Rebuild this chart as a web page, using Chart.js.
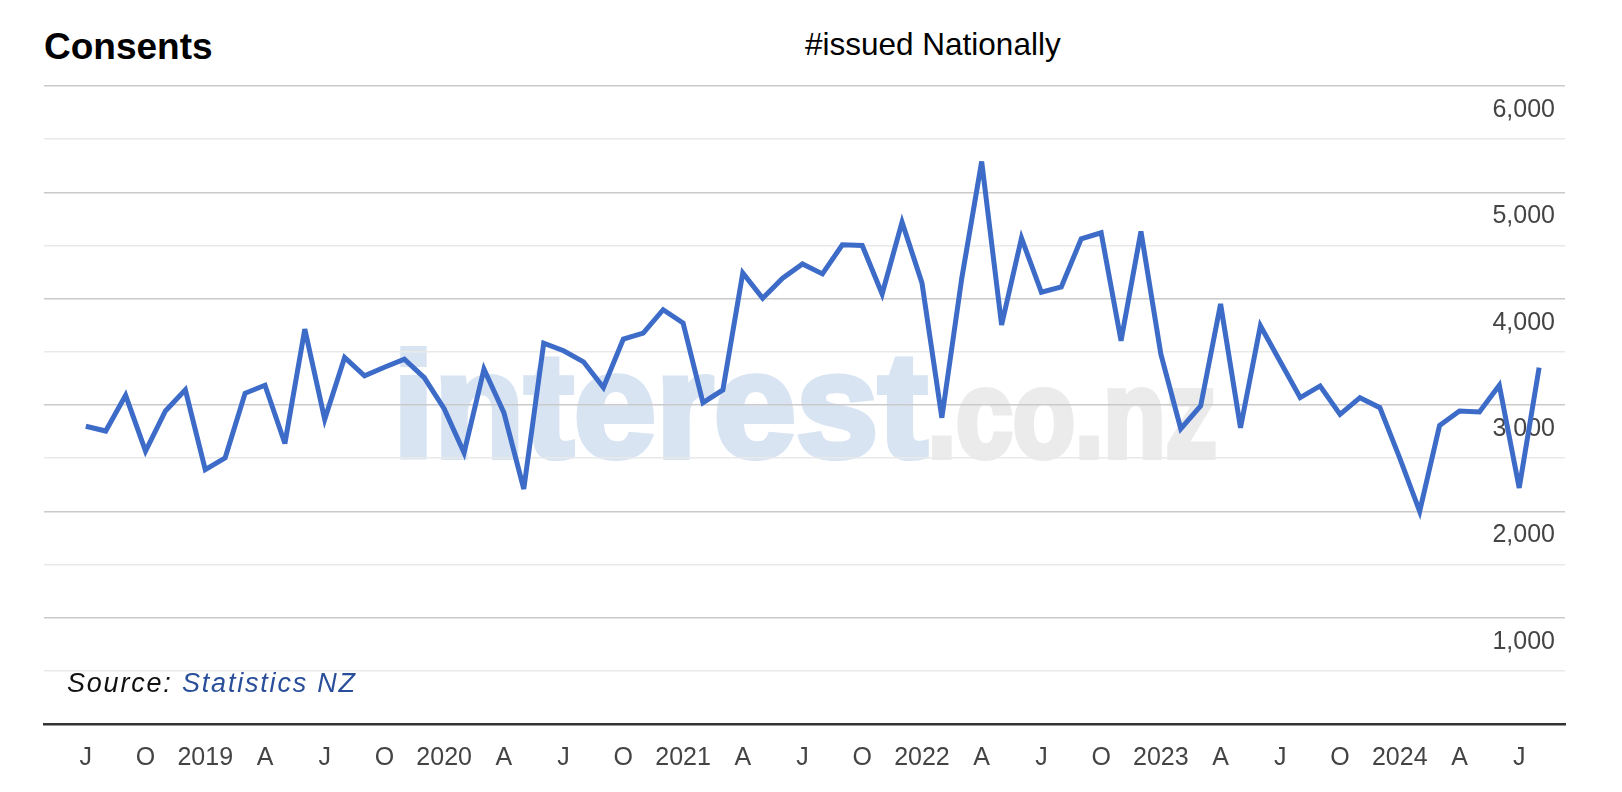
<!DOCTYPE html>
<html>
<head>
<meta charset="utf-8">
<title>Consents</title>
<script src="https://cdn.jsdelivr.net/npm/chart.js@4.4.1/dist/chart.umd.min.js"></script>
<style>
  html, body { margin: 0; padding: 0; background: #fff; }
  #wrap { position: relative; width: 1622px; height: 792px; overflow: hidden; font-family: 'Liberation Sans', Arial, sans-serif; }
  #chart { position: absolute; left: 0; top: 0; z-index: 1; }
  .txt { position: absolute; line-height: 1; white-space: nowrap; }
  #title { left: 44px; top: 28px; font-size: 37px; font-weight: bold; color: #000; }
  #subtitle { left: 805px; top: 29px; font-size: 31.5px; color: #000; }
  #source { left: 67px; top: 670px; font-size: 27px; font-style: italic; color: #111; letter-spacing: 1.8px; z-index: 2; }
  #source span { color: #2a4f9a; }
  #mark { left: 393px; top: 332px; font-size: 148px; font-weight: bold; z-index: 0; }
  #mark span { line-height: 1; }
  #mark .a { color: #d9e4f3; -webkit-text-stroke: 6px #d9e4f3; }
  #mark .b { display: inline-block; color: #ebebeb; font-size: 102px; -webkit-text-stroke: 5px #ebebeb;
             transform: scaleY(1.22); transform-origin: 50% 85%; }
</style>
</head>
<body>
<div id="wrap">
  <div id="mark" class="txt"><span class="a">interest</span><span class="b">.co.nz</span></div>
  <canvas id="chart" width="1622" height="792"></canvas>
  <div id="title" class="txt">Consents</div>
  <div id="subtitle" class="txt">#issued Nationally</div>
  <div id="source" class="txt">Source: <span>Statistics NZ</span></div>
</div>
<script>
// monthly consents issued, Jul 2018 .. Aug 2024
const months = [
    '2018-07','2018-08','2018-09','2018-10','2018-11','2018-12',
    '2019-01','2019-02','2019-03','2019-04','2019-05','2019-06','2019-07','2019-08','2019-09','2019-10','2019-11','2019-12',
    '2020-01','2020-02','2020-03','2020-04','2020-05','2020-06','2020-07','2020-08','2020-09','2020-10','2020-11','2020-12',
    '2021-01','2021-02','2021-03','2021-04','2021-05','2021-06','2021-07','2021-08','2021-09','2021-10','2021-11','2021-12',
    '2022-01','2022-02','2022-03','2022-04','2022-05','2022-06','2022-07','2022-08','2022-09','2022-10','2022-11','2022-12',
    '2023-01','2023-02','2023-03','2023-04','2023-05','2023-06','2023-07','2023-08','2023-09','2023-10','2023-11','2023-12',
    '2024-01','2024-02','2024-03','2024-04','2024-05','2024-06','2024-07','2024-08'
];
const consents = [
    2800, 2755, 3091, 2566, 2944, 3142,
    2393, 2503, 3110, 3186, 2638, 3714, 2865, 3447, 3274, 3355, 3431, 3258,
    2966, 2550, 3337, 2928, 2210, 3582, 3510, 3406, 3164, 3620, 3676, 3896,
    3771, 3022, 3142, 4242, 4003, 4192, 4327, 4233, 4507, 4500, 4044, 4720,
    4148, 2880, 4192, 5290, 3752, 4570, 4060, 4110, 4563, 4620, 3604, 4632,
    3478, 2777, 2991, 3950, 2786, 3745, 3406, 3069, 3179, 2912, 3069, 2975,
    2500, 2000, 2808, 2944, 2934, 3186, 2220, 3352
];
// one label every 3 months, starting Jul 2018
const tickLabels = [
    'J','O','2019','A','J','O','2020','A','J','O','2021','A',
    'J','O','2022','A','J','O','2023','A','J','O','2024','A','J'
];

const tickFont = { family: "'Liberation Sans', Arial, sans-serif", size: 25 };

// svg-like miter limit so the sharp spikes get bevelled
const miterPlugin = {
    id: 'miter',
    beforeDatasetsDraw: function(chart) {
        chart.ctx.miterLimit = 4;
    }
};

new Chart(document.getElementById('chart').getContext('2d'), {
    type: 'line',
    data: {
        datasets: [{
            label: 'Consents',
            data: consents.map((v, i) => ({ x: i, y: v })),
            borderColor: '#3d6bc8',
            borderWidth: 5,
            borderJoinStyle: 'miter',
            pointRadius: 0,
            tension: 0,
            fill: false
        }]
    },
    options: {
        responsive: false,
        animation: false,
        devicePixelRatio: 1,
        layout: { padding: { left: 44, right: 57, top: 86, bottom: 0 } },
        plugins: {
            legend: { display: false },
            tooltip: { enabled: false }
        },
        scales: {
            x: {
                type: 'linear',
                min: -2.1,
                max: 74.3,
                afterBuildTicks: function(axis) {
                    axis.ticks = tickLabels.map((_, i) => ({ value: i * 3 }));
                },
                grid: { display: false, drawTicks: false },
                border: { display: true, color: '#333', width: 2.5 },
                ticks: {
                    autoSkip: false,
                    maxRotation: 0,
                    padding: 19,
                    color: '#444',
                    font: tickFont,
                    callback: function(value) {
                        const i = Math.round(value / 3);
                        return tickLabels[i] || '';
                    }
                }
            },
            y: {
                position: 'right',
                min: 0,
                max: 6000,
                grid: {
                    drawTicks: false,
                    lineWidth: 1.5,
                    color: function(ctx) {
                        const v = ctx.tick ? ctx.tick.value : 0;
                        if (v === 0) return 'rgba(0,0,0,0)';
                        return v % 1000 === 0 ? '#cacaca' : '#e9e9e9';
                    }
                },
                border: { display: false },
                ticks: {
                    stepSize: 500,
                    mirror: true,
                    padding: -10,
                    labelOffset: 24,
                    color: '#444',
                    font: tickFont,
                    callback: function(value) {
                        return (value > 0 && value % 1000 === 0) ? value.toLocaleString('en-US') : '';
                    }
                }
            }
        }
    },
    plugins: [miterPlugin]
});
</script>
</body>
</html>
